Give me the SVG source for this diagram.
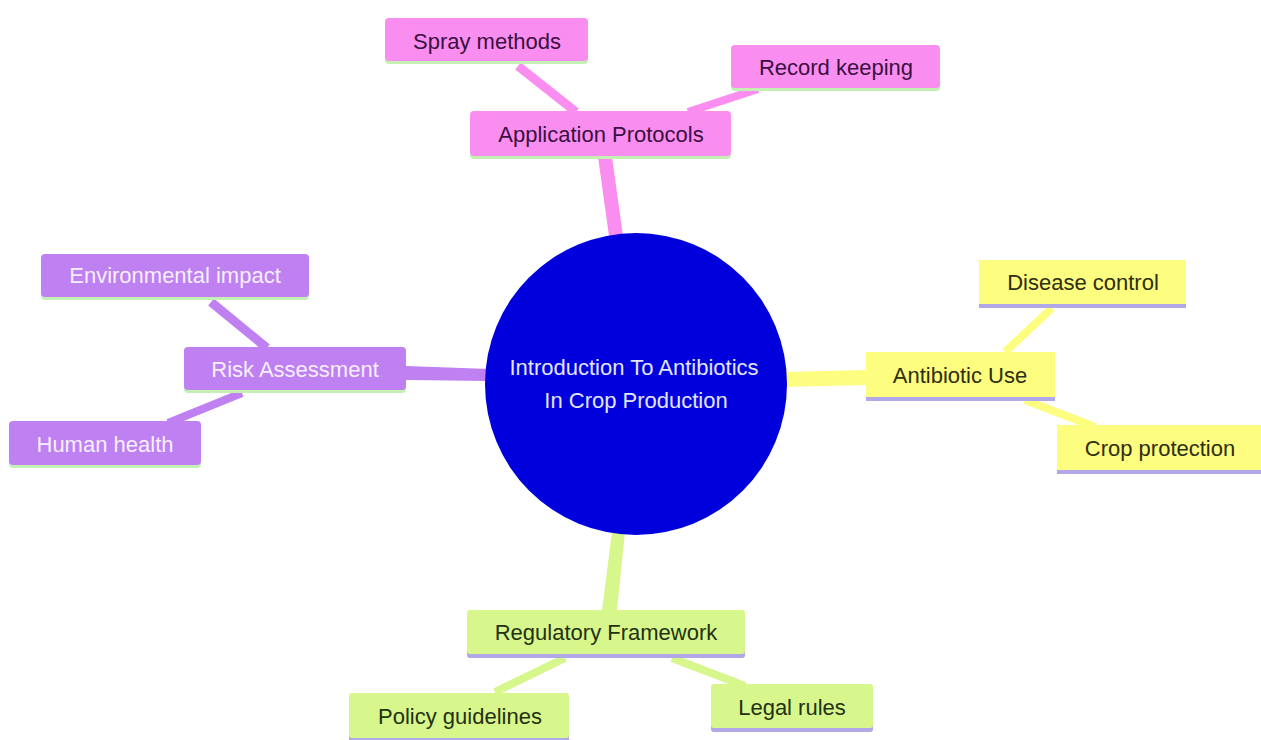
<svg xmlns="http://www.w3.org/2000/svg" width="1261" height="740" viewBox="0 0 1261 740">
<style>
text{font-family:"Liberation Sans",Arial,sans-serif;font-size:22px;text-anchor:middle}
.pk{fill:#fa8ef0}
.pu{fill:#bf80f2}
.ye{fill:#fdfd80}
.li{fill:#d7f78c}
.gb{fill:#c4f0b4}
.lb{fill:#b0a8e8}
.tpk{fill:#3a1040}
.tpu{fill:#f6effd}
.tye{fill:#2e2e10}
.tli{fill:#243012}
.c1{stroke-linecap:butt;fill:none}
</style>
<rect width="1261" height="740" fill="#ffffff"/>
<g id="connectors">
<polygon class="pk" points="598,157 612,157 623,236 609,236"/>
<line class="c1" x1="518" y1="66" x2="576" y2="112" stroke="#fa8ef0" stroke-width="9"/>
<line class="c1" x1="758" y1="89" x2="688" y2="112" stroke="#fa8ef0" stroke-width="8"/>
<polygon class="pu" points="406,366 406,380 490,381 490,369"/>
<line class="c1" x1="211" y1="302" x2="267" y2="348" stroke="#bf80f2" stroke-width="9"/>
<line class="c1" x1="242" y1="393" x2="168" y2="423" stroke="#bf80f2" stroke-width="8"/>
<polygon class="ye" points="784,372 784,387 866,385 866,370"/>
<line class="c1" x1="1052" y1="308" x2="1005" y2="352" stroke="#fdfd80" stroke-width="8"/>
<line class="c1" x1="1025" y1="400" x2="1095" y2="427" stroke="#fdfd80" stroke-width="8"/>
<polygon class="li" points="612,532 625,532 617,610 602,610"/>
<line class="c1" x1="495" y1="692" x2="565" y2="658" stroke="#d7f78c" stroke-width="8"/>
<line class="c1" x1="745" y1="686" x2="672" y2="658" stroke="#d7f78c" stroke-width="8"/>
</g>
<g id="center">
<circle cx="636" cy="384" r="151" fill="#0000dd"/>
<text x="634" y="375" fill="#e4e4ff">Introduction To Antibiotics</text>
<text x="636" y="408" fill="#e4e4ff">In Crop Production</text>
</g>
<g id="application-protocols">
<rect class="gb" x="470" y="113" width="261" height="46" rx="4"/>
<rect class="pk" x="470" y="111" width="261" height="45" rx="4"/>
<text class="tpk" x="601" y="142">Application Protocols</text>
</g>
<g id="spray-methods">
<rect class="gb" x="385" y="20" width="203" height="44" rx="4"/>
<rect class="pk" x="385" y="18" width="203" height="43" rx="4"/>
<text class="tpk" x="487" y="49">Spray methods</text>
</g>
<g id="record-keeping">
<rect class="gb" x="731" y="47" width="209" height="44" rx="4"/>
<rect class="pk" x="731" y="45" width="209" height="43" rx="4"/>
<text class="tpk" x="836" y="75">Record keeping</text>
</g>
<g id="risk-assessment">
<rect class="gb" x="184" y="349" width="222" height="44" rx="4"/>
<rect class="pu" x="184" y="347" width="222" height="43" rx="4"/>
<text class="tpu" x="295" y="377">Risk Assessment</text>
</g>
<g id="environmental-impact">
<rect class="gb" x="41" y="256" width="268" height="44" rx="4"/>
<rect class="pu" x="41" y="254" width="268" height="43" rx="4"/>
<text class="tpu" x="175" y="283">Environmental impact</text>
</g>
<g id="human-health">
<rect class="gb" x="9" y="423" width="192" height="45" rx="4"/>
<rect class="pu" x="9" y="421" width="192" height="44" rx="4"/>
<text class="tpu" x="105" y="452">Human health</text>
</g>
<g id="antibiotic-use">
<rect class="lb" x="866" y="354" width="189" height="47"/>
<rect class="ye" x="866" y="352" width="189" height="45"/>
<text class="tye" x="960" y="383">Antibiotic Use</text>
</g>
<g id="disease-control">
<rect class="lb" x="979" y="262" width="207" height="46"/>
<rect class="ye" x="979" y="260" width="207" height="44"/>
<text class="tye" x="1083" y="290">Disease control</text>
</g>
<g id="crop-protection">
<rect class="lb" x="1057" y="427" width="204" height="47"/>
<rect class="ye" x="1057" y="425" width="204" height="45"/>
<text class="tye" x="1160" y="456">Crop protection</text>
</g>
<g id="regulatory-framework">
<rect class="lb" x="467" y="612" width="278" height="46" rx="3"/>
<rect class="li" x="467" y="610" width="278" height="44" rx="3"/>
<text class="tli" x="606" y="640">Regulatory Framework</text>
</g>
<g id="policy-guidelines">
<rect class="lb" x="349" y="695" width="220" height="47" rx="3"/>
<rect class="li" x="349" y="693" width="220" height="45" rx="3"/>
<text class="tli" x="460" y="724">Policy guidelines</text>
</g>
<g id="legal-rules">
<rect class="lb" x="711" y="686" width="162" height="46" rx="3"/>
<rect class="li" x="711" y="684" width="162" height="44" rx="3"/>
<text class="tli" x="792" y="715">Legal rules</text>
</g>
</svg>
